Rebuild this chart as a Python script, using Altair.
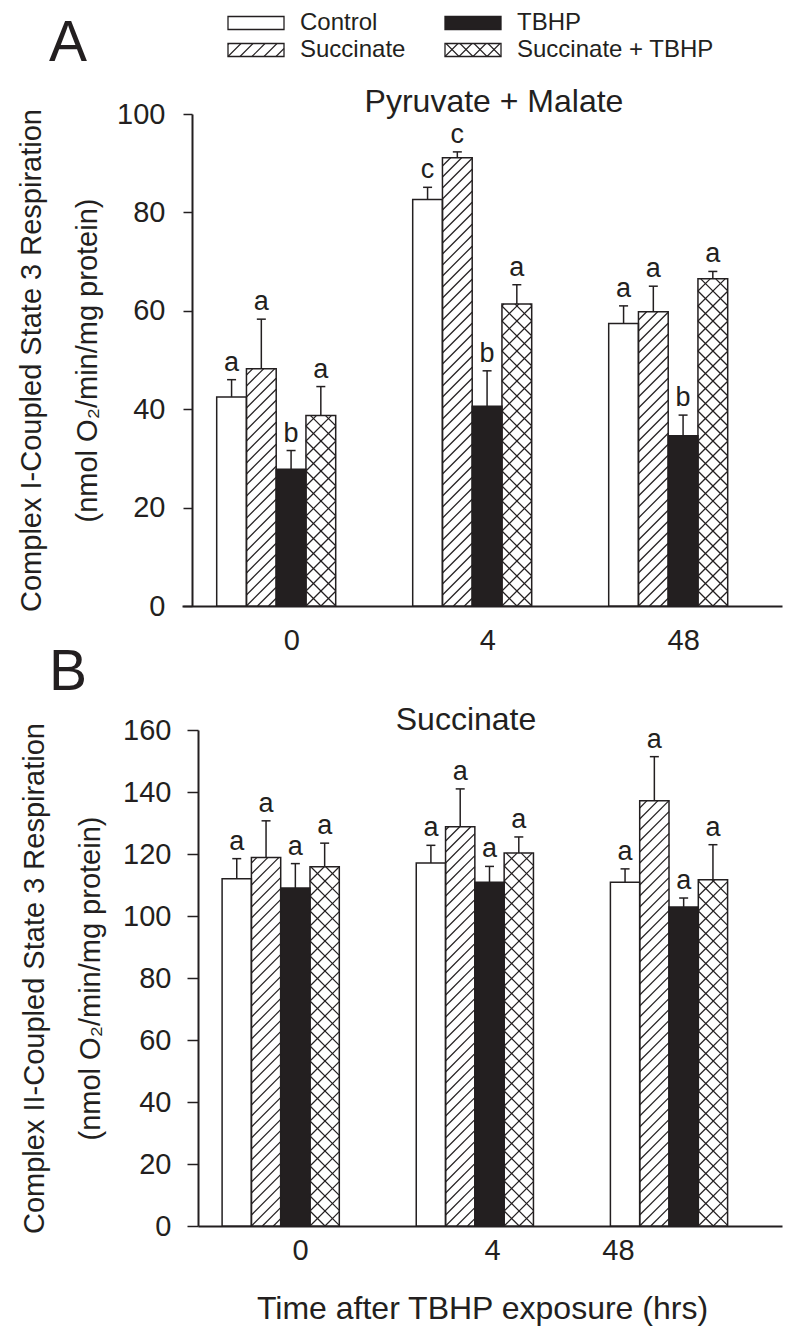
import math
import altair as alt
import pandas as pd

# ---------------- data ----------------
times = ["0", "4", "48"]
series = ["Control", "Succinate", "TBHP", "Succinate + TBHP"]

# Panel A: Pyruvate + Malate (Complex I)
a_control = [42.5, 82.6, 57.4]
a_succinate = [48.2, 91.1, 59.8]
a_tbhp = [27.8, 40.6, 34.6]
a_succ_tbhp = [38.7, 61.4, 66.5]
a_control_err = [3.5, 2.5, 3.6]
a_succinate_err = [10.1, 1.2, 5.2]
a_tbhp_err = [3.8, 7.2, 4.2]
a_succ_tbhp_err = [5.9, 3.9, 1.5]
a_control_sig = ["a", "c", "a"]
a_succinate_sig = ["a", "c", "a"]
a_tbhp_sig = ["b", "b", "b"]
a_succ_tbhp_sig = ["a", "a", "a"]

# Panel B: Succinate (Complex II)
b_control = [112.0, 117.1, 110.9]
b_succinate = [118.9, 128.8, 137.2]
b_tbhp = [109.0, 110.9, 102.9]
b_succ_tbhp = [115.9, 120.3, 111.7]
b_control_err = [6.5, 5.7, 4.3]
b_succinate_err = [11.8, 12.2, 14.2]
b_tbhp_err = [7.9, 5.1, 2.9]
b_succ_tbhp_err = [7.6, 5.2, 11.3]
b_control_sig = ["a", "a", "a"]
b_succinate_sig = ["a", "a", "a"]
b_tbhp_sig = ["a", "a", "a"]
b_succ_tbhp_sig = ["a", "a", "a"]

a_title = "Pyruvate + Malate"
b_title = "Succinate"
a_ytitle = ["Complex I-Coupled State 3 Respiration", "(nmol O\u2082/min/mg protein)"]
b_ytitle = ["Complex II-Coupled State 3 Respiration", "(nmol O\u2082/min/mg protein)"]
x_title = "Time after TBHP exposure (hrs)"

# ---------------- styles / layout ----------------
INK = "#231f20"
FONT = "Liberation Sans"
PLOT_W = 600

LAYOUT_A = dict(height=492, ymax=100, ystep=20, first=94.2, group=196.0, bar=29.75,
                axis_shift=10, label_px=[109.2, 305.2, 501.2], tick=9, lpad=18, tpad=14,
                xlab=29, xlpad=20)
LAYOUT_B = dict(height=496, ymax=160, ystep=20, first=98.7, group=194.15, bar=29.3,
                axis_shift=16, label_px=[118, 310, 436], tick=11, lpad=16, tpad=17,
                xlab=29, xlpad=10)

PATTERN = {"Control": ("white", ""), "Succinate": ("white", "/"),
           "TBHP": (INK, ""), "Succinate + TBHP": ("white", "x")}
HATCH_GAP = {"/": 11.0, "x": 15.0}
LEGEND_GAP = {"/": 12.0, "x": 14.0}


def hatch_segments(w, h, kind, gap):
    """Diagonal hatch segments inside a w x h box (u right, v up), pixels."""
    segs = []
    if kind in ("/", "x"):
        for k in range(math.ceil(-w / gap), math.floor(h / gap) + 1):
            c = k * gap
            u0, u1 = max(0.0, -c), min(w, h - c)
            if u1 - u0 > 0.4:
                segs.append((u0, u0 + c, u1, u1 + c))
    if kind in ("\\", "x"):
        for k in range(0, math.floor((w + h) / gap) + 1):
            c = k * gap
            u0, u1 = max(0.0, c - h), min(w, c)
            if u1 - u0 > 0.4:
                segs.append((u0, c - u0, u1, c - u1))
    return segs


def build_panel(values, errs, sigs, L, ytitle, title, title_x, title_y,
                letter, letter_y, xtitle=None, legend=False, dash=None):
    ppu = L["height"] / L["ymax"]
    g = L["group"]

    def to_x(px):
        return (px - L["first"]) / g

    bars, hatch = [], []
    for si, name in enumerate(series):
        fill, kind = PATTERN[name]
        for gi, t in enumerate(times):
            v, e = values[si][gi], errs[si][gi]
            cpx = L["first"] + gi * g + (si - 1.5) * L["bar"]
            lpx = cpx - L["bar"] / 2
            bars.append(dict(series=name, time=t, x0=to_x(lpx), x1=to_x(lpx + L["bar"]),
                             xc=to_x(cpx), c0=to_x(cpx - 4.5), c1=to_x(cpx + 4.5),
                             v=v, base=0.0, top=v + e, sig=sigs[si][gi], fill=fill))
            if kind:
                for u0, w0, u1, w1 in hatch_segments(L["bar"], v * ppu, kind, HATCH_GAP[kind]):
                    hatch.append(dict(x=to_x(lpx + u0), x2=to_x(lpx + u1),
                                      y=w0 / ppu, y2=w1 / ppu))
    bdf = pd.DataFrame(bars)
    hdf = pd.DataFrame(hatch)

    xs = alt.Scale(domain=[to_x(0), to_x(PLOT_W)], nice=False, zero=False)
    ys = alt.Scale(domain=[0, L["ymax"]], nice=False, zero=True)

    label_vals = [round(to_x(p), 4) for p in L["label_px"]]
    expr = "'" + times[-1] + "'"
    for val, t in reversed(list(zip(label_vals[:-1], times[:-1]))):
        expr = f"abs(datum.value - {val}) < 0.001 ? '{t}' : ({expr})"

    xaxis_kw = dict(values=label_vals, labelExpr=expr, ticks=False, tickSize=0,
                    domainColor=INK, domainWidth=2, labelFontSize=L["xlab"], labelColor=INK,
                    labelPadding=L["xlpad"], labelFlush=False, grid=False)
    if dash:
        xaxis_kw["domainDash"] = dash
    if xtitle:
        xaxis_kw.update(title=xtitle, titleFontSize=32, titleFontWeight="normal",
                        titleColor=INK, titlePadding=28)
    else:
        xaxis_kw["title"] = None
    xaxis = alt.Axis(**xaxis_kw)

    yaxis = alt.Axis(values=list(range(0, L["ymax"] + 1, L["ystep"])), title=ytitle,
                     titleFontSize=29, titleFontWeight="normal", titleColor=INK,
                     titleLineHeight=56, titlePadding=L["tpad"],
                     labelFontSize=29, labelColor=INK, labelPadding=L["lpad"],
                     tickSize=L["tick"], tickWidth=1.5, tickColor=INK,
                     domainColor=INK, domainWidth=2, grid=False, offset=-L["axis_shift"])

    base = alt.Chart(bdf)
    fills = base.mark_rect(strokeWidth=0).encode(
        x=alt.X("x0:Q", scale=xs, axis=xaxis), x2="x1:Q",
        y=alt.Y("v:Q", scale=ys, axis=yaxis), y2="base:Q",
        fill=alt.Fill("fill:N", scale=None))
    layers = [fills]
    if len(hdf):
        layers.append(alt.Chart(hdf).mark_rule(color=INK, strokeWidth=1.2).encode(
            x=alt.X("x:Q", scale=xs), x2="x2:Q",
            y=alt.Y("y:Q", scale=ys), y2="y2:Q"))
    layers.append(base.mark_rect(fill="white", fillOpacity=0, stroke=INK, strokeWidth=1.5).encode(
        x=alt.X("x0:Q", scale=xs), x2="x1:Q",
        y=alt.Y("v:Q", scale=ys), y2="base:Q"))
    layers.append(base.mark_rule(color=INK, strokeWidth=1.5).encode(
        x=alt.X("xc:Q", scale=xs),
        y=alt.Y("v:Q", scale=ys), y2="top:Q"))
    layers.append(base.mark_rule(color=INK, strokeWidth=1.5).encode(
        x=alt.X("c0:Q", scale=xs), x2="c1:Q",
        y=alt.Y("top:Q", scale=ys)))
    layers.append(base.mark_text(fontSize=27, dy=-9, baseline="alphabetic", color=INK).encode(
        x=alt.X("xc:Q", scale=xs),
        y=alt.Y("top:Q", scale=ys), text="sig:N"))
    layers.append(alt.Chart(pd.DataFrame({"t": [title]})).mark_text(
        fontSize=32, align="center", baseline="alphabetic", color=INK).encode(
        x=alt.value(title_x), y=alt.value(title_y), text="t:N"))
    layers.append(alt.Chart(pd.DataFrame({"t": [letter]})).mark_text(
        fontSize=57, align="left", baseline="alphabetic", color=INK).encode(
        x=alt.value(-133), y=alt.value(letter_y), text="t:N"))

    if legend:
        col_x, row_y, bw, bh, tdx = [46, 263], [-91, -64], 56, 13, 72
        lrows, lhatch = [], []
        for i, name in enumerate(series):
            col, row = divmod(i, 2)
            bx, cy = col_x[col], row_y[row]
            fill, kind = PATTERN[name]
            lrows.append(dict(series=name, x0=bx, x1=bx + bw, y0=cy - bh / 2, y1=cy + bh / 2,
                              tx=bx + tdx, ty=cy, fill=fill))
            if kind:
                for u0, w0, u1, w1 in hatch_segments(bw, bh, kind, LEGEND_GAP[kind]):
                    lhatch.append(dict(x=bx + u0, x2=bx + u1,
                                       y=cy + bh / 2 - w0, y2=cy + bh / 2 - w1))
        ldf = pd.DataFrame(lrows)
        lh = pd.DataFrame(lhatch)
        layers.append(alt.Chart(ldf).mark_rect(strokeWidth=0).encode(
            x=alt.X("x0:Q", scale=None), x2="x1:Q",
            y=alt.Y("y0:Q", scale=None), y2="y1:Q",
            fill=alt.Fill("fill:N", scale=None)))
        layers.append(alt.Chart(lh).mark_rule(color=INK, strokeWidth=1.1).encode(
            x=alt.X("x:Q", scale=None), x2="x2:Q",
            y=alt.Y("y:Q", scale=None), y2="y2:Q"))
        layers.append(alt.Chart(ldf).mark_rect(fill="white", fillOpacity=0, stroke=INK,
                                               strokeWidth=1.3).encode(
            x=alt.X("x0:Q", scale=None), x2="x1:Q",
            y=alt.Y("y0:Q", scale=None), y2="y1:Q"))
        layers.append(alt.Chart(ldf).mark_text(fontSize=24, align="left", baseline="middle",
                                               color=INK).encode(
            x=alt.X("tx:Q", scale=None), y=alt.Y("ty:Q", scale=None), text="series:N"))

    return alt.layer(*layers).properties(width=PLOT_W, height=L["height"])


panel_a = build_panel(
    [a_control, a_succinate, a_tbhp, a_succ_tbhp],
    [a_control_err, a_succinate_err, a_tbhp_err, a_succ_tbhp_err],
    [a_control_sig, a_succinate_sig, a_tbhp_sig, a_succ_tbhp_sig],
    LAYOUT_A, a_ytitle, a_title, 312, -2, "A", -53, legend=True)

panel_b = build_panel(
    [b_control, b_succinate, b_tbhp, b_succ_tbhp],
    [b_control_err, b_succinate_err, b_tbhp_err, b_succ_tbhp_err],
    [b_control_sig, b_succinate_sig, b_tbhp_sig, b_succ_tbhp_sig],
    LAYOUT_B, b_ytitle, b_title, 284, 0, "B", -40, xtitle=x_title,
    dash=[0, 16, 584, 0])

chart = alt.vconcat(panel_a, panel_b, spacing=124, bounds="flush").properties(
    padding={"left": 9, "top": 3, "right": 10, "bottom": 8},
    background="white",
).configure(font=FONT).configure_view(strokeWidth=0)

chart.save("out.html", embed_options={"renderer": "svg", "actions": False})
